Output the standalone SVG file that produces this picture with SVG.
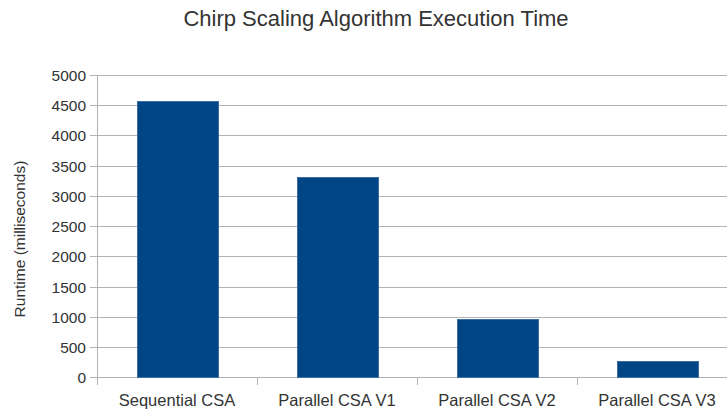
<svg xmlns="http://www.w3.org/2000/svg" width="727" height="410" viewBox="0 0 727 410">
<style>
text{font-family:"Liberation Sans",Arial,sans-serif;fill:#333333}
.t{font-size:15.5px;text-anchor:end}
.c{font-size:16.5px;text-anchor:middle}
.g{stroke:#b3b3b3;stroke-width:1;fill:none}
.bar{fill:#004586;stroke:#3a6fa5;stroke-width:1}
</style>
<rect width="727" height="410" fill="#ffffff"/>
<text x="376" y="26" style="font-size:22px;text-anchor:middle">Chirp Scaling Algorithm Execution Time</text>
<g id="grid" class="g">
<path d="M97.5 75.5H727M97.5 105.5H727M97.5 135.5H727M97.5 166.5H727M97.5 196.5H727M97.5 226.5H727M97.5 256.5H727M97.5 287.5H727M97.5 317.5H727M97.5 347.5H727M97.5 377.5H727"/>
<path d="M90 75.5H97.5M90 105.5H97.5M90 135.5H97.5M90 166.5H97.5M90 196.5H97.5M90 226.5H97.5M90 256.5H97.5M90 287.5H97.5M90 317.5H97.5M90 347.5H97.5M90 377.5H97.5"/>
<path d="M97.5 75V385M257.5 377.5V385M417.5 377.5V385M577.5 377.5V385"/>
</g>
<g id="yticks">
<text class="t" x="86" y="81">5000</text>
<text class="t" x="86" y="111">4500</text>
<text class="t" x="86" y="141">4000</text>
<text class="t" x="86" y="172">3500</text>
<text class="t" x="86" y="202">3000</text>
<text class="t" x="86" y="232">2500</text>
<text class="t" x="86" y="262">2000</text>
<text class="t" x="86" y="293">1500</text>
<text class="t" x="86" y="323">1000</text>
<text class="t" x="86" y="353">500</text>
<text class="t" x="86" y="383">0</text>
</g>
<text x="25" y="239" transform="rotate(-90 25 239)" style="font-size:15.5px;text-anchor:middle">Runtime (milliseconds)</text>
<g id="bar-seq"><rect class="bar" x="137.5" y="101.5" width="81" height="276"/></g>
<g id="bar-v1"><rect class="bar" x="297.5" y="177.5" width="81" height="200"/></g>
<g id="bar-v2"><rect class="bar" x="457.5" y="319.5" width="81" height="58"/></g>
<g id="bar-v3"><rect class="bar" x="617.5" y="361.5" width="81" height="16"/></g>
<g id="xlabels">
<text class="c" x="177" y="406">Sequential CSA</text>
<text class="c" x="337" y="406">Parallel CSA V1</text>
<text class="c" x="497" y="406">Parallel CSA V2</text>
<text class="c" x="657" y="406">Parallel CSA V3</text>
</g>
</svg>
